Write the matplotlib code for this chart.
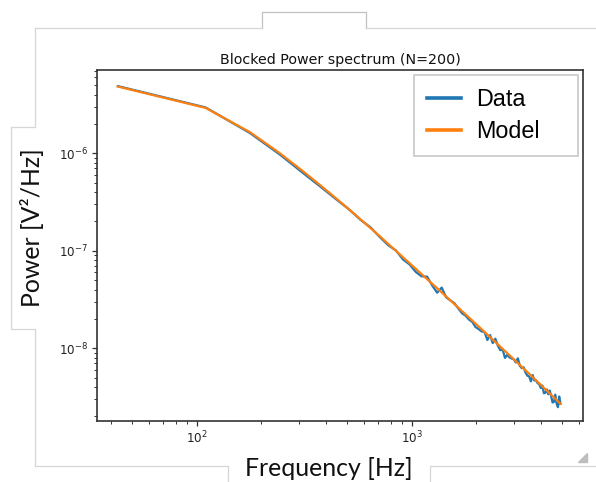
import matplotlib
matplotlib.use("Agg")
import matplotlib.pyplot as plt
from matplotlib.lines import Line2D
from matplotlib.patches import Polygon

# Block-averaged frequencies [Hz]
freq = [43, 110, 177, 244, 311, 377, 444, 511, 578, 645, 711, 778, 845, 912,
        979, 1045, 1112, 1179, 1246, 1313, 1379, 1446, 1513, 1580, 1647, 1713,
        1780, 1847, 1914, 1981, 2047, 2114, 2181, 2248, 2315, 2381, 2448, 2515,
        2582, 2649, 2715, 2782, 2849, 2916, 2983, 3049, 3116, 3183, 3250, 3317,
        3383, 3450, 3517, 3584, 3651, 3717, 3784, 3851, 3918, 3985, 4051, 4118,
        4185, 4252, 4319, 4385, 4452, 4519, 4586, 4653, 4719, 4786, 4853, 4920]

# Measured blocked power spectrum [V^2/Hz]
power_data = [4.88e-6, 2.95e-6, 1.61e-6, 9.68e-7, 6.32e-7, 4.53e-7, 3.39e-7,
              2.66e-7, 2.08e-7, 1.73e-7, 1.38e-7, 1.14e-7, 1.007e-7, 8.13e-8,
              7.22e-8, 6.06e-8, 5.47e-8, 5.43e-8, 4.40e-8, 3.72e-8, 4.19e-8,
              3.33e-8, 3.10e-8, 2.90e-8, 2.56e-8, 2.29e-8, 2.16e-8, 1.97e-8,
              1.86e-8, 1.65e-8, 1.575e-8, 1.49e-8, 1.471e-8, 1.217e-8, 1.367e-8,
              1.131e-8, 1.254e-8, 1.065e-8, 9.57e-9, 9.67e-9, 7.97e-9, 8.56e-9,
              8.07e-9, 7.85e-9, 7.72e-9, 7.16e-9, 7.90e-9, 6.62e-9, 6.27e-9,
              6.38e-9, 5.64e-9, 5.24e-9, 5.15e-9, 4.58e-9, 5.32e-9, 4.68e-9,
              4.70e-9, 4.39e-9, 4.28e-9, 3.92e-9, 4.16e-9, 3.46e-9, 3.50e-9,
              3.79e-9, 3.38e-9, 3.69e-9, 3.21e-9, 2.78e-9, 2.82e-9, 3.35e-9,
              2.71e-9, 2.49e-9, 3.20e-9, 2.70e-9]

# Fitted model spectrum [V^2/Hz]
power_model = [4.83e-6, 2.92e-6, 1.645e-6, 9.98e-7, 6.58e-7, 4.67e-7, 3.46e-7,
               2.66e-7, 2.10e-7, 1.70e-7, 1.408e-7, 1.175e-7, 9.97e-8, 8.56e-8,
               7.44e-8, 6.52e-8, 5.76e-8, 5.12e-8, 4.58e-8, 4.13e-8, 3.74e-8,
               3.40e-8, 3.10e-8, 2.84e-8, 2.61e-8, 2.41e-8, 2.23e-8, 2.07e-8,
               1.92e-8, 1.79e-8, 1.676e-8, 1.568e-8, 1.471e-8, 1.383e-8, 1.302e-8,
               1.229e-8, 1.161e-8, 1.098e-8, 1.040e-8, 9.87e-9, 9.38e-9, 8.92e-9,
               8.49e-9, 8.09e-9, 7.72e-9, 7.38e-9, 7.05e-9, 6.75e-9, 6.46e-9,
               6.19e-9, 5.94e-9, 5.70e-9, 5.48e-9, 5.27e-9, 5.07e-9, 4.88e-9,
               4.70e-9, 4.53e-9, 4.37e-9, 4.22e-9, 4.075e-9, 3.937e-9, 3.805e-9,
               3.680e-9, 3.560e-9, 3.448e-9, 3.339e-9, 3.235e-9, 3.136e-9,
               3.041e-9, 2.951e-9, 2.864e-9, 2.781e-9, 2.701e-9]

title = "Blocked Power spectrum (N=200)"
xlabel = "Frequency [Hz]"
ylabel = "Power [V²/Hz]"
series_labels = ["Data", "Model"]

W, H = 596, 482
fig = plt.figure(figsize=(W / 100, H / 100), dpi=100)
fig.patch.set_facecolor("white")


def fx(px):
    return px / W


def fy(py):
    return 1 - py / H


ax = fig.add_axes([fx(97.3), fy(420.7), fx(582.7) - fx(97.3), fy(70) - fy(420.7)])
ax.set_xscale("log")
ax.set_yscale("log")

ax.plot(freq, power_data, color="#1f77b4", lw=1.6, label=series_labels[0])
ax.plot(freq, power_model, color="#ff7f0e", lw=1.6, label=series_labels[1])

ax.set_xlim(34.5, 6240)
ax.set_ylim(1.81e-9, 7.14e-6)

for s in ax.spines.values():
    s.set_color("#333333")
    s.set_linewidth(1.2)
ax.tick_params(which="major", length=3.5, width=0.9, labelsize=8.6,
               colors="#333333", labelcolor="#222222", pad=3)
ax.tick_params(which="minor", length=2.2, width=0.7, colors="#333333")

ax.set_title(title, fontsize=10.3, pad=4.5, color="#111111")

leg = ax.legend(loc="upper left", bbox_to_anchor=(0.6525, 0.767, 0.3378, 0.2187),
                mode="expand", borderaxespad=0, fancybox=False, framealpha=1,
                edgecolor="#cccccc", handlelength=1.45, handletextpad=0.65,
                borderpad=0.55, labelspacing=0.4,
                prop={"family": "Liberation Sans", "size": 16.8})
leg.get_frame().set_linewidth(1.3)
for line in leg.get_lines():
    line.set_linewidth(2.6)

fig.text(fx(328.5), fy(468), xlabel, ha="center", va="center",
         fontsize=17.9, family="Lato", color="#111111")
fig.text(fx(32), fy(227.5), ylabel, ha="center", va="center", rotation=90,
         fontsize=17.9, family="Lato", color="#111111")

# Window outline around the figure
light = "#d6d6d6"
dark = "#c2c2c2"
outline = [
    ([261.5, 261.5, 366, 366], [28.3, 12.3, 12.3, 28.3], dark),
    ([34.6, 261.5], [28.3, 28.3], light),
    ([366, 596], [28.3, 28.3], light),
    ([34.6, 34.6, 10.7, 10.7, 34.6, 34.6], [28.3, 126.7, 126.7, 329, 329, 466], light),
    ([34.6, 228, 228], [466, 466, 482], light),
    ([430, 430, 596], [482, 466, 466], light),
]
for xs, ys, c in outline:
    fig.add_artist(Line2D([fx(v) for v in xs], [fy(v) for v in ys],
                          color=c, lw=0.9, transform=fig.transFigure))
fig.add_artist(Polygon([[fx(587), fy(453)], [fx(587), fy(462)], [fx(578), fy(462)]],
                       closed=True, color="#bdbdbd", transform=fig.transFigure))

fig.savefig("out.png", dpi=100, facecolor="white")
